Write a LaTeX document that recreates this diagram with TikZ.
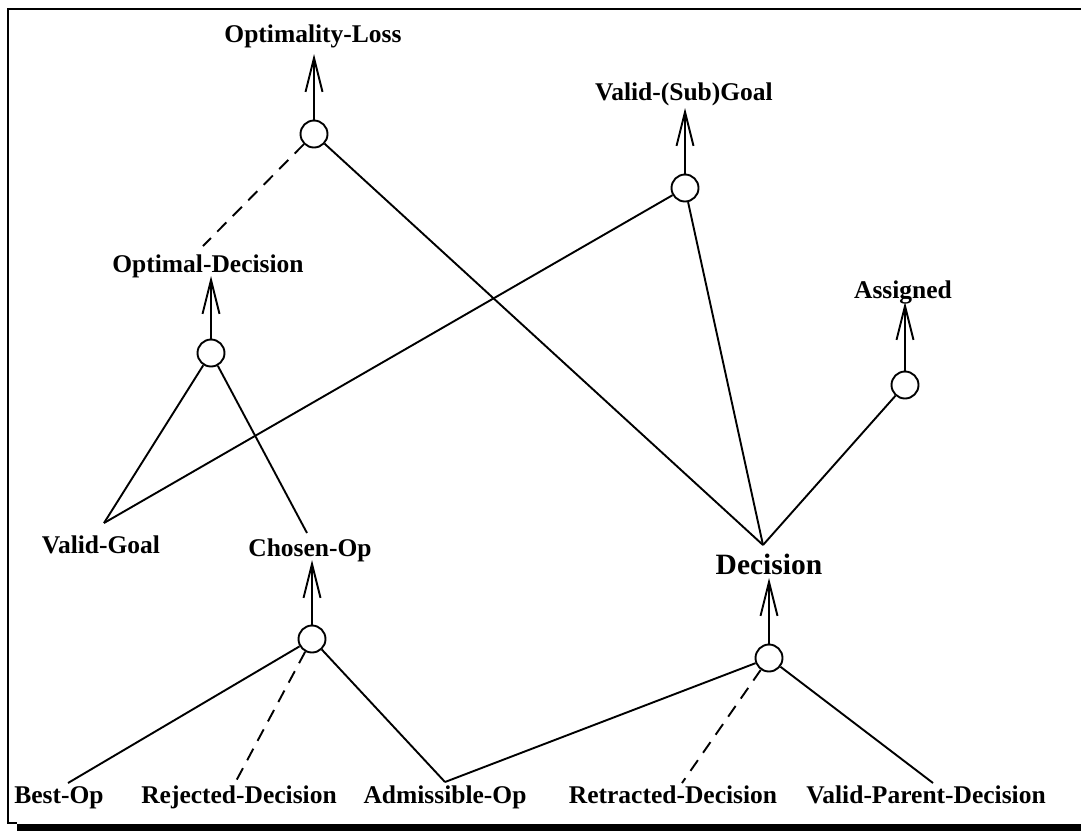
\documentclass[tikz,border=0pt]{standalone}
\usepackage{fontspec}
\setmainfont{Liberation Serif}
\usetikzlibrary{arrows.meta}

\begin{document}
\begin{tikzpicture}[x=1pt,y=-1pt,
  lab/.style={font=\bfseries\fontsize{25.5}{30}\selectfont, inner sep=0pt,
    text depth=0pt, outer ysep=4pt, anchor=base},
  biglab/.style={lab, font=\bfseries\fontsize{29.5}{34}\selectfont},
  junc/.style={circle, draw, line width=1.9pt, minimum size=27pt, inner sep=0pt},
  link/.style={line width=1.9pt},
  dashlink/.style={link, dash pattern=on 13pt off 9pt},
  up/.style={link, -{Straight Barb[length=34pt,width=17pt]}},
]
\useasboundingbox (0,0) rectangle (1081,831);

% frame with a heavy shadow along the bottom
\draw[line width=2.6pt] (1081,9) -- (8,9) -- (8,823) -- (17,823);
\fill (17,823.5) rectangle (1081,831);

% labels
\node[lab] (ol)  at (313,42)  {Optimality-Loss};
\node[lab] (vsg) at (684,100) {Valid-(Sub)Goal};
\node[lab] (od)  at (208,272) {Optimal-Decision};
\node[lab] (as)  at (903,298) {Assigned};
\node[lab] (vg)  at (101,553) {Valid-Goal};
\node[lab] (co)  at (310,556) {Chosen-Op};
\node[biglab] (de) at (769,574) {Decision};
\node[lab] (bo)  at (59,803)  {Best-Op};
\node[lab] (rd)  at (239,803) {Rejected-Decision};
\node[lab] (ao)  at (445,803) {Admissible-Op};
\node[lab] (td)  at (673,803) {Retracted-Decision};
\node[lab] (vpd) at (926,803) {Valid-Parent-Decision};

% junction circles
\node[junc] (cOL) at (314,134) {};
\node[junc] (cVS) at (685,188) {};
\node[junc] (cOD) at (211,353) {};
\node[junc] (cAS) at (905,385) {};
\node[junc] (cCO) at (312,639) {};
\node[junc] (cDE) at (769,658) {};

% line ends next to the labels
\coordinate (jOD)  at (203,246);
\coordinate (jVG)  at (104,523);
\coordinate (jCO)  at (307,533);
\coordinate (jDE)  at (763,545);
\coordinate (jBO)  at (68,783);
\coordinate (jRD)  at (235,783);
\coordinate (jAO)  at (445,782);
\coordinate (jTD)  at (682,783);
\coordinate (jVPD) at (933,783);

% arrows up to the derived labels
\draw[up, shorten >=8pt] (cOL.north) -- (cOL.north |- ol.south);
\draw[up, shorten >=4pt] (cVS.north) -- (cVS.north |- vsg.south);
\draw[up] (cOD.north) -- (cOD.north |- od.south);
\draw[up] (cAS.north) -- (cAS.north |- as.south);
\draw[up] (cCO.north) -- (cCO.north |- co.south);
\draw[up] (cDE.north) -- (cDE.north |- de.south);

% Optimality-Loss
\draw[dashlink] (cOL) -- (jOD);
\draw[link] (cOL) -- (jDE);

% Valid-(Sub)Goal
\draw[link] (cVS) -- (jVG);
\draw[link] (cVS) -- (jDE);

% Assigned
\draw[link] (cAS) -- (jDE);

% Optimal-Decision
\draw[link] (cOD) -- (jVG);
\draw[link] (cOD) -- (jCO);

% Chosen-Op
\draw[link] (cCO) -- (jBO);
\draw[dashlink] (cCO) -- (jRD);
\draw[link] (cCO) -- (jAO);

% Decision
\draw[link] (jAO) -- (cDE);
\draw[dashlink] (cDE) -- (jTD);
\draw[link] (cDE) -- (jVPD);
\end{tikzpicture}
\end{document}
